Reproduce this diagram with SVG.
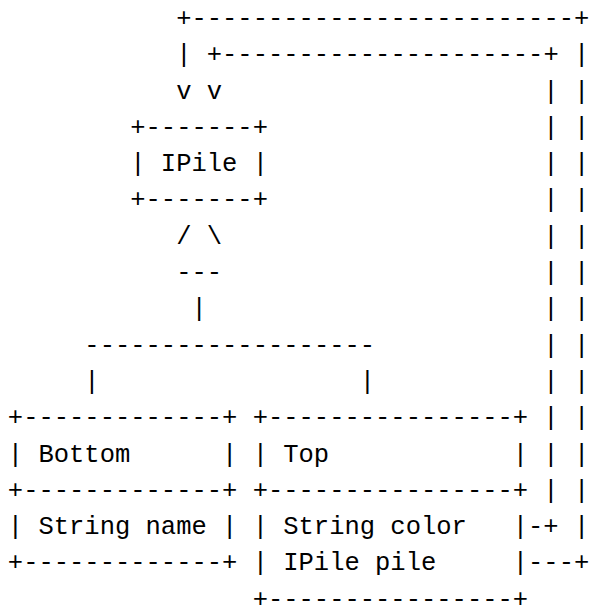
<svg xmlns="http://www.w3.org/2000/svg" width="590" height="607" viewBox="0 0 590 607" xml:space="preserve">
  <style>
    text { font-family: "Liberation Mono", "DejaVu Sans Mono", monospace; font-size: 25.5px; fill: #000; white-space: pre; }
  </style>
  <rect width="590" height="607" fill="#fff"/>

  <!-- connectors: generalization fork and the two pile back-references -->
  <g id="connectors">
    <text x="176.15" y="25.9">+-------------------------+</text>
    <text x="176.15" y="62.2">| +---------------------+ |</text>
    <text x="176.15" y="98.5">v v</text>
    <text x="543.35" y="98.5">| |</text>
    <text x="543.35" y="134.8">| |</text>
    <text x="543.35" y="171.1">| |</text>
    <text x="543.35" y="207.4">| |</text>
    <text x="176.15" y="243.7">/ \</text>
    <text x="543.35" y="243.7">| |</text>
    <text x="176.15" y="280">---</text>
    <text x="543.35" y="280">| |</text>
    <text x="191.45" y="316.3">|</text>
    <text x="543.35" y="316.3">| |</text>
    <text x="84.35" y="352.6">-------------------</text>
    <text x="543.35" y="352.6">| |</text>
    <text x="84.35" y="388.9">|</text>
    <text x="359.75" y="388.9">|</text>
    <text x="543.35" y="388.9">| |</text>
    <text x="543.35" y="425.2">| |</text>
    <text x="543.35" y="461.5">| |</text>
    <text x="543.35" y="497.8">| |</text>
    <text x="528.05" y="534.1">-+ |</text>
    <text x="528.05" y="570.4">---+</text>
  </g>

  <!-- interface IPile -->
  <g id="ipile">
    <text x="130.25" y="134.8">+-------+</text>
    <text x="130.25" y="171.1">| IPile |</text>
    <text x="130.25" y="207.4">+-------+</text>
  </g>

  <!-- class Bottom -->
  <g id="bottom">
    <text x="7.85" y="425.2">+-------------+</text>
    <text x="7.85" y="461.5">| Bottom      |</text>
    <text x="7.85" y="497.8">+-------------+</text>
    <text x="7.85" y="534.1">| String name |</text>
    <text x="7.85" y="570.4">+-------------+</text>
  </g>

  <!-- class Top -->
  <g id="top">
    <text x="252.65" y="425.2">+----------------+</text>
    <text x="252.65" y="461.5">| Top            |</text>
    <text x="252.65" y="497.8">+----------------+</text>
    <text x="252.65" y="534.1">| String color   |</text>
    <text x="252.65" y="570.4">| IPile pile     |</text>
    <text x="252.65" y="606.7">+----------------+</text>
  </g>
</svg>
